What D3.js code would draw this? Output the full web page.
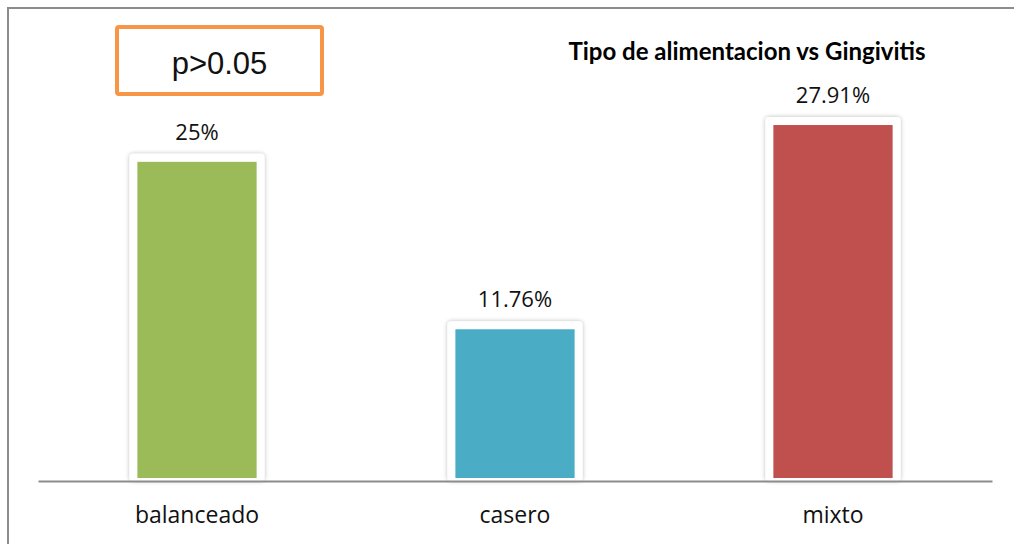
<!DOCTYPE html>
<html>
<head>
<meta charset="utf-8">
<script src="https://cdn.jsdelivr.net/npm/d3@7"></script>
<style>
  html, body { margin: 0; padding: 0; background: #fff; overflow: hidden; }
  svg { display: block; }
</style>
</head>
<body>
<svg id="chart" width="1014" height="544"></svg>
<script>
// Feeding type vs gingivitis (% of cases)
const categories = ["balanceado", "casero", "mixto"];
const values = [25, 11.76, 27.91];
const valueLabels = ["25%", "11.76%", "27.91%"];
const colors = ["#9BBB59", "#4BACC6", "#C0504D"];
const title = "Tipo de alimentacion vs Gingivitis";
const note = "p>0.05";

const W = 1014, H = 544;
const svg = d3.select("#chart");

const defs = svg.append("defs");
const f = defs.append("filter").attr("id", "frameShadow")
  .attr("x", "-20%").attr("y", "-20%").attr("width", "140%").attr("height", "140%");
f.append("feDropShadow").attr("dx", 0).attr("dy", 0)
  .attr("stdDeviation", 2.2).attr("flood-color", "#000").attr("flood-opacity", 0.28);

// outer chart border (top and left edges fall inside the view)
svg.append("path")
  .attr("d", `M8,${H} V8 H${W}`)
  .attr("fill", "none").attr("stroke", "#8c8c8c").attr("stroke-width", 2);

const x = d3.scaleBand().domain(categories).range([38, 992]).paddingInner(0).paddingOuter(0);
const y = d3.scaleLinear().domain([0, 30]).range([478, 98.6]);
const barW = x.bandwidth() * 0.375;
const frame = 8;

const g = svg.append("g");
const bars = g.selectAll("g.bar").data(categories).join("g").attr("class", "bar");

// white frame behind each bar
bars.append("rect")
  .attr("x", d => x(d) + x.bandwidth() / 2 - barW / 2 - frame)
  .attr("y", (d, i) => y(values[i]) - frame)
  .attr("width", barW + frame * 2)
  .attr("height", (d, i) => y(0) - y(values[i]) + frame + 3)
  .attr("rx", 4)
  .attr("fill", "#fff")
  .attr("filter", "url(#frameShadow)");

bars.append("rect")
  .attr("x", d => x(d) + x.bandwidth() / 2 - barW / 2)
  .attr("y", (d, i) => y(values[i]))
  .attr("width", barW)
  .attr("height", (d, i) => y(0) - y(values[i]))
  .attr("fill", (d, i) => colors[i]);

// value labels
bars.append("text")
  .attr("x", d => x(d) + x.bandwidth() / 2)
  .attr("y", (d, i) => y(values[i]) - 22)
  .attr("text-anchor", "middle")
  .attr("font-family", "'Open Sans', sans-serif")
  .attr("font-size", 22)
  .attr("fill", "#111")
  .text((d, i) => valueLabels[i]);

// category axis
const axis = d3.axisBottom(x).tickSize(0).tickPadding(26);
const ax = svg.append("g").attr("transform", "translate(0,481)").call(axis);
ax.select(".domain").attr("stroke", "#8c8c8c").attr("stroke-width", 2);
ax.selectAll(".tick text")
  .attr("font-family", "'Open Sans', sans-serif")
  .attr("font-size", 23)
  .attr("fill", "#111");

// title
svg.append("text")
  .attr("x", 747).attr("y", 60)
  .attr("text-anchor", "middle")
  .attr("font-family", "Lato, sans-serif")
  .attr("font-weight", "bold")
  .attr("font-size", 24)
  .attr("fill", "#000")
  .text(title);

// significance box
svg.append("rect").attr("x", 117).attr("y", 27).attr("width", 205).attr("height", 67)
  .attr("rx", 2)
  .attr("fill", "#fff").attr("stroke", "#F79646").attr("stroke-width", 4);
svg.append("text")
  .attr("x", 219.5).attr("y", 74)
  .attr("text-anchor", "middle")
  .attr("font-family", "'Liberation Sans', Arial, sans-serif")
  .attr("font-size", 31)
  .attr("fill", "#111")
  .text(note);
</script>
</body>
</html>
